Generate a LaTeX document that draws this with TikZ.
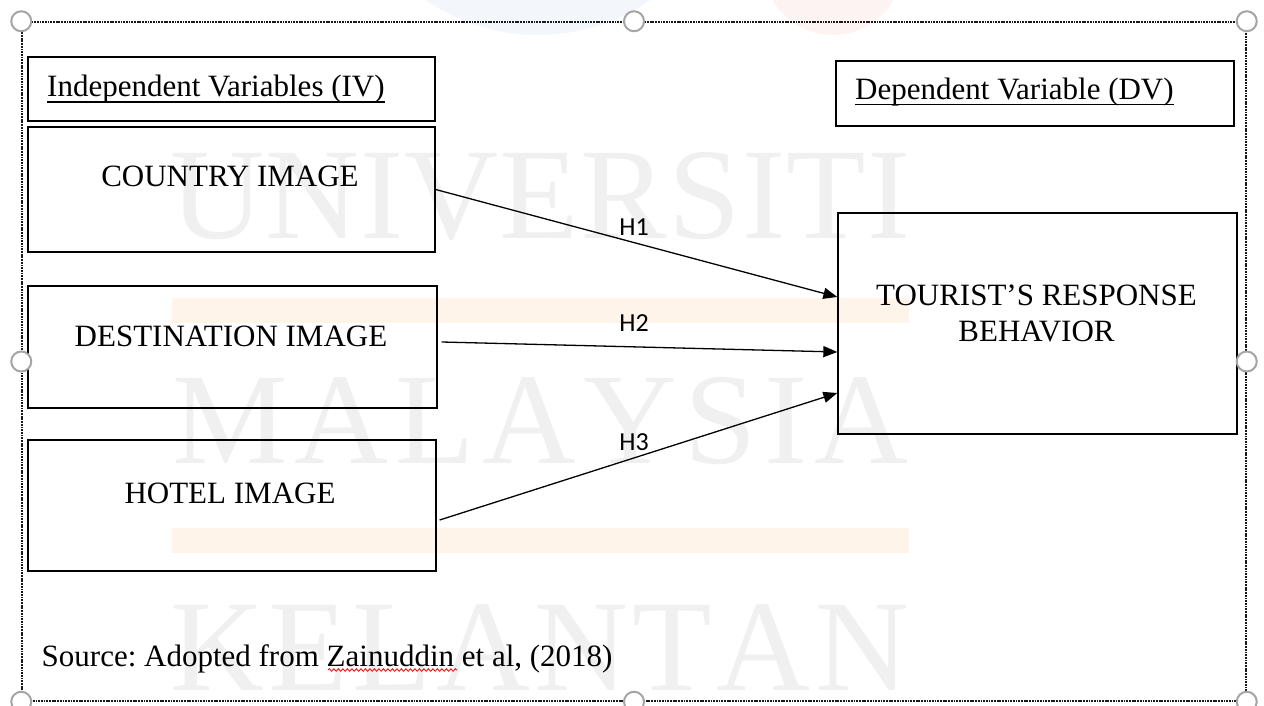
\documentclass[tikz,border=0pt]{standalone}
\usepackage{fontspec}
\setmainfont{Liberation Serif}
\newfontfamily\calibrifont{Carlito}
\usetikzlibrary{arrows.meta,decorations.pathmorphing}
\definecolor{wmgray}{RGB}{240,240,240}
\definecolor{wmorange}{RGB}{254,244,234}
\definecolor{wmblue}{RGB}{243,246,250}
\definecolor{wmpink}{RGB}{254,243,243}
\definecolor{handlegray}{RGB}{165,165,165}
\frenchspacing
\begin{document}
\begin{tikzpicture}[x=1pt,y=-1pt,
  box/.style={draw=black, line width=1.3pt, inner sep=0pt},
  boxtxt/.style={inner sep=0pt, anchor=base, font=\fontsize{31}{36}\selectfont},
  hyp/.style={inner sep=0pt, anchor=base, font=\calibrifont\fontsize{26}{30}\selectfont},
  conn/.style={line width=1.3pt, -{Triangle[length=14pt,width=11pt]}},
  handle/.style={circle, draw=handlegray, line width=2pt, fill=white, minimum size=20pt, inner sep=0pt},
  framebox/.style={draw=black!90, line width=1.5pt, dash pattern=on 1.8pt off 0.9pt, inner sep=0pt},
  wm/.style={inner sep=0pt, anchor=base, text=wmgray, font=\fontsize{130}{140}\selectfont},
  uline/.style={line width=1.2pt}
]
\useasboundingbox (0,0) rectangle (1264,706);
\fill[white] (0,0) rectangle (1264,706);

% faint watermark
\begin{scope}
  \clip (0,0) rectangle (1264,706);
  \fill[wmblue] (538,-161.7) circle (196.7pt);
  \fill[wmpink] (833,-34.8) circle (69.8pt);
  \fill[wmorange] (172,298) rectangle (909,323);
  \fill[wmorange] (172,528) rectangle (909,553);
  \node[wm] (wm1) at (540.5,238) {\makebox[741pt][s]{U\hfil N\hfil I\hfil V\hfil E\hfil R\hfil S\hfil I\hfil T\hfil I}};
  \node[wm] (wm2) at (540.5,463) {\makebox[737pt][s]{M\hfil A\hfil L\hfil A\hfil Y\hfil S\hfil I\hfil A}};
  \node[wm] (wm3) at (539.5,690) {\makebox[739pt][s]{K\hfil E\hfil L\hfil A\hfil N\hfil T\hfil A\hfil N}};
\end{scope}

% outer selection frame
\node[framebox, minimum width=1224pt, minimum height=679pt] (fr) at (634,361.5) {};

% boxes
\node[box, minimum width=407pt, minimum height=64pt] (ivhead) at (231.5,89) {};
\node[box, minimum width=407pt, minimum height=125pt] (country) at (231.5,189.5) {};
\node[box, minimum width=409pt, minimum height=122pt] (dest) at (232.5,347) {};
\node[box, minimum width=408pt, minimum height=131pt] (hotel) at (232,505.5) {};
\node[box, minimum width=398pt, minimum height=65pt] (dvhead) at (1035,93.5) {};
\node[box, minimum width=399pt, minimum height=221pt] (dv) at (1037.5,323.5) {};

% texts
\node[boxtxt, anchor=base west] (ivtxt) at (47,97) {Independent Variables (IV)};
\draw[uline] ([yshift=-5pt]ivtxt.base west) -- ([yshift=-5pt]ivtxt.base east);
\node[boxtxt, anchor=base west] (dvheadtxt) at (855,100) {Dependent Variable (DV)};
\draw[uline] ([yshift=-4.5pt]dvheadtxt.base west) -- ([yshift=-4.5pt]dvheadtxt.base east);
\node[boxtxt] (countrytxt) at (230,186) {COUNTRY IMAGE};
\node[boxtxt] (desttxt) at (231,346) {DESTINATION IMAGE};
\node[boxtxt] (hoteltxt) at (230,503) {HOTEL IMAGE};
\node[boxtxt] (dvtxta) at (1036.5,305) {TOURIST’S RESPONSE};
\node[boxtxt] (dvtxtb) at (1036.5,341.7) {BEHAVIOR};
\node[boxtxt, anchor=base west] (src) at (41.5,666) {Source: Adopted from Zainuddin et al, (2018)};
\draw[red, line width=0.8pt, decorate, decoration={snake, amplitude=1.3pt, segment length=4.5pt}] (328,670) -- (457,670);

% connectors
\draw[conn] (country.east) -- ([yshift=26.5pt]dv.west);
\draw[conn] ([xshift=4pt,yshift=5pt]dest.east) -- ([yshift=-28.5pt]dv.west);
\draw[conn] ([xshift=3pt,yshift=-14.5pt]hotel.east) -- ([yshift=-69.5pt]dv.west);

% hypothesis labels
\node[hyp] (h1) at (634,235) {H1};
\node[hyp] (h2) at (634,331) {H2};
\node[hyp] (h3) at (634,450) {H3};

% selection handles
\node[handle] (hnw) at (fr.north west) {};
\node[handle] (hn) at (fr.north) {};
\node[handle] (hne) at (fr.north east) {};
\node[handle] (hw) at (fr.west) {};
\node[handle] (he) at (fr.east) {};
\node[handle] (hsw) at (fr.south west) {};
\node[handle] (hs) at (fr.south) {};
\node[handle] (hse) at (fr.south east) {};
\end{tikzpicture}
\end{document}
